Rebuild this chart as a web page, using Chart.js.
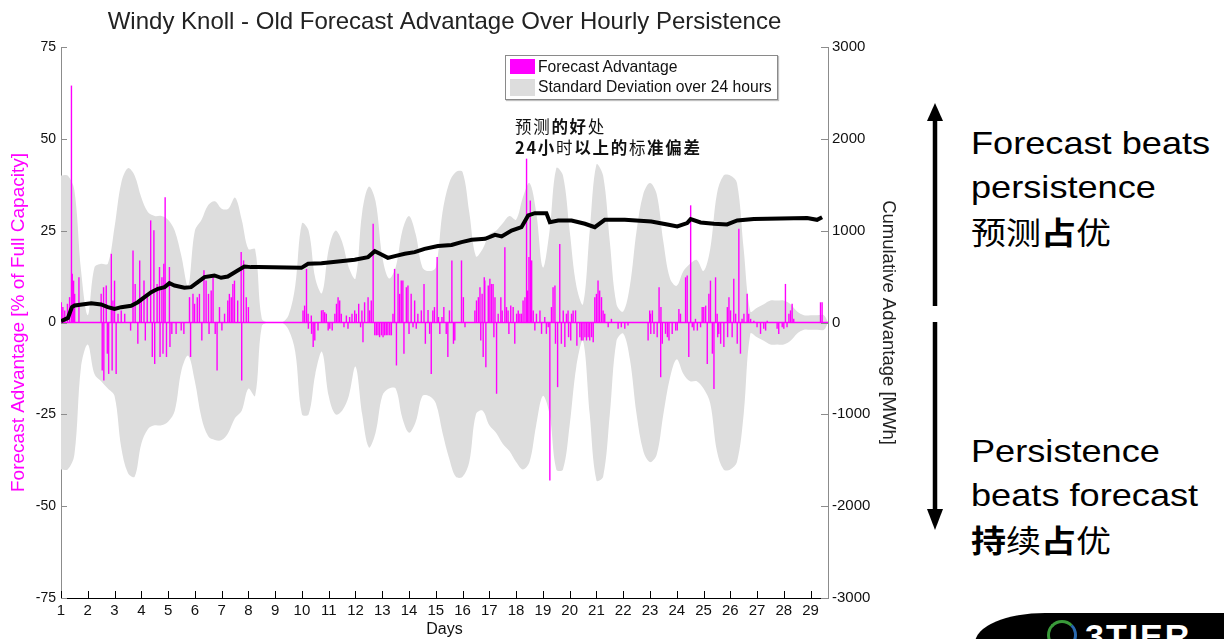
<!DOCTYPE html>
<html><head><meta charset="utf-8">
<script src="https://cdn.jsdelivr.net/npm/chart.js@4"></script>
<style>
html,body{margin:0;padding:0;background:#fff;}
body{width:1224px;height:639px;position:relative;overflow:hidden;font-family:"Liberation Sans",Arial,sans-serif;}
#c{position:absolute;left:0;top:0;}
.legend{position:absolute;left:505px;top:55px;width:271px;height:43px;border:1px solid #8a8a8a;background:#fff;box-shadow:1px 1px 1px #c0c0c0;}
.sw{position:absolute;left:4px;width:25px;}
.lt{position:absolute;left:32px;font-size:15.7px;color:#111;white-space:nowrap;line-height:18px;}
.ann{position:absolute;left:515px;font-family:"Noto Sans CJK SC",sans-serif;font-size:16.5px;color:#111;white-space:nowrap;letter-spacing:1.7px;line-height:21px;}
.ann b{font-weight:700;}
.rt{position:absolute;left:971px;font-size:32px;line-height:44px;color:#000;white-space:nowrap;transform:scaleX(1.13);transform-origin:0 0;}
.rt .cj{font-family:"Noto Sans CJK SC",sans-serif;font-size:31px;}
.rt b{font-weight:700;}
#logo{position:absolute;left:975px;top:613px;width:260px;height:40px;background:#000;border-radius:70px 0 0 0 / 30px 0 0 0;overflow:hidden;}
#logo .t{position:absolute;left:110px;top:4px;color:#fff;font-weight:bold;font-size:34px;letter-spacing:2px;}
#logo .s{position:absolute;left:72px;top:7px;width:24px;height:24px;border-radius:50%;border:3px solid #3a9a3a;border-right-color:#2a6ab0;border-bottom-color:#d07a2a;}
</style></head>
<body>
<canvas id="c" width="900" height="639"></canvas>

<div class="legend">
  <div class="sw" style="top:3px;height:15px;background:#ff00ff"></div>
  <div class="lt" style="top:2px">Forecast Advantage</div>
  <div class="sw" style="top:23px;height:17px;background:#dddddd"></div>
  <div class="lt" style="top:22px">Standard Deviation over 24 hours</div>
</div>

<div class="ann" style="top:116px">预测<b>的好</b>处</div>
<div class="ann" style="top:137px"><b>24小</b>时<b>以上的</b>标<b>准偏差</b></div>

<svg style="position:absolute;left:915px;top:95px" width="40" height="450">
  <line x1="20" y1="20" x2="20" y2="211" stroke="#000" stroke-width="4.5"/>
  <polygon points="12,26 20,8 28,26" fill="#000"/>
  <line x1="20" y1="227" x2="20" y2="420" stroke="#000" stroke-width="4.5"/>
  <polygon points="12,414 20,435 28,414" fill="#000"/>
</svg>

<div class="rt" style="top:121px">Forecast beats<br>persistence<br><span class="cj">预测<b>占</b>优</span></div>
<div class="rt" style="top:429px">Persistence<br>beats forecast<br><span class="cj"><b>持</b>续<b>占</b>优</span></div>

<div id="logo"><div class="s"></div><div class="t">3TIER</div></div>

<script>
// ---------------- data ----------------
const xMin = 1, xMax = 29.65;
const dayTicks = [1,2,3,4,5,6,7,8,9,10,11,12,13,14,15,16,17,18,19,20,21,22,23,24,25,26,27,28,29];
const leftTicks = [-75,-50,-25,0,25,50,75];
const rightTicks = [-3000,-2000,-1000,0,1000,2000,3000];

// standard deviation band (upper / lower edge, % of capacity), every quarter day
const bandDays = [1,1.25,1.5,1.75,2,2.25,2.5,2.75,3,3.25,3.5,3.75,4,4.25,4.5,4.75,5,5.25,5.5,5.75,6,6.25,6.5,6.75,7,7.25,7.5,7.75,8,8.25,8.5,8.75,9,9.25,9.5,9.75,10,10.25,10.5,10.75,11,11.25,11.5,11.75,12,12.25,12.5,12.75,13,13.25,13.5,13.75,14,14.25,14.5,14.75,15,15.25,15.5,15.75,16,16.25,16.5,16.75,17,17.25,17.5,17.75,18,18.25,18.5,18.75,19,19.25,19.5,19.75,20,20.25,20.5,20.75,21,21.25,21.5,21.75,22,22.25,22.5,22.75,23,23.25,23.5,23.75,24,24.25,24.5,24.75,25,25.25,25.5,25.75,26,26.25,26.5,26.75,27,27.25,27.5,27.75,28,28.25,28.5,28.75,29,29.25,29.5,29.65];
const bandUpper = [40,40,36,14, 2,15,16,16, 26,38,42,40, 34,30,29,29, 28,25,18,10, 25,28,32,33, 31,31,34,28, 20,20,1,0, 0,0,2,10, 27,25,12,8, 20,25,22,15, 12,30,37,33, 18,12,15,25, 29,24,15,14, 15,30,38,41, 41,30,18,20, 24,25,27,29, 28,34,38,30, 15,25,42,40, 25,10,5,25, 43,40,22,5, 3,10,25,35, 38,35,22,12, 10,14,16,17, 14,20,35,40, 40,38,20,3, 4,5,6,6, 6,5,3,2, 2,2,2,0];
const bandLower = [-40,-40,-36,-12, -6,-14,-16,-18, -20,-34,-41,-42, -33,-29,-28,-28, -27,-24,-13,-9, -16,-26,-31,-32, -32,-30,-26,-24, -18,-20,-1,0, 0,0,-2,-8, -25,-25,-14,-8, -20,-25,-24,-20, -12,-25,-34,-30, -20,-18,-18,-26, -30,-27,-20,-20, -22,-30,-37,-42, -42,-38,-25,-24, -28,-30,-33,-35, -38,-40,-38,-28, -20,-25,-40,-40, -28,-12,-5,-25, -43,-42,-25,-5, -3,-10,-25,-35, -38,-36,-25,-15, -10,-14,-16,-16, -18,-22,-35,-40, -40,-38,-25,-3, -4,-5,-6,-6, -6,-5,-3,-2, -2,-2,-2,0];

// hourly forecast advantage spikes (% of full capacity)
const spikeDays = [1.01,1.07,1.14,1.24,1.32,1.39,1.42,1.47,1.51,1.67,2.50,2.54,2.59,2.60,2.69,2.73,2.78,2.88,2.91,2.94,3.00,3.06,3.13,3.25,3.38,3.60,3.69,3.77,3.87,3.94,4.00,4.10,4.15,4.22,4.35,4.41,4.47,4.50,4.59,4.68,4.70,4.77,4.81,4.84,4.89,4.94,5.05,5.07,5.14,5.30,5.49,5.59,5.80,5.84,5.93,5.99,6.09,6.17,6.26,6.34,6.42,6.51,6.53,6.61,6.68,6.76,6.83,6.92,7.01,7.11,7.23,7.29,7.36,7.42,7.48,7.60,7.73,7.75,7.82,7.92,8.00,
10.04,10.10,10.17,10.23,10.24,10.35,10.36,10.42,10.48,10.60,10.73,10.79,10.85,10.91,10.98,11.04,11.13,11.23,11.29,11.35,11.41,11.47,11.57,11.66,11.72,11.78,11.87,11.97,12.03,12.12,12.19,12.24,12.28,12.34,12.47,12.53,12.59,12.66,12.72,12.78,12.84,12.90,12.97,13.03,13.09,13.15,13.21,13.28,13.34,13.40,13.46,13.53,13.59,13.65,13.71,13.77,13.81,13.90,13.96,14.00,14.08,14.15,14.21,14.27,14.33,14.46,14.56,14.61,14.71,14.77,14.83,14.89,14.95,15.05,15.10,15.15,15.23,15.30,15.39,15.45,15.51,15.60,15.66,
15.71,15.96,16.03,16.09,16.46,16.52,16.59,16.65,16.68,16.73,16.77,16.81,16.83,16.87,16.96,17.02,17.08,17.14,17.17,17.21,17.27,17.33,17.43,17.48,17.58,17.64,17.70,17.73,17.80,17.89,17.95,18.02,18.08,18.14,18.20,18.26,18.33,18.39,18.43,18.48,18.53,18.58,18.64,18.70,18.76,18.89,18.95,19.07,19.13,19.20,19.26,19.32,19.38,19.45,19.47,19.55,19.63,19.69,19.76,19.82,19.88,19.94,19.96,20.04,20.07,20.13,20.22,20.27,20.38,20.44,20.50,20.57,20.63,20.69,20.75,20.82,20.88,20.94,21.00,21.06,21.12,21.19,21.25,21.31,21.44,21.56,21.81,21.93,22.06,22.18,22.93,22.99,
23.02,23.03,23.09,23.15,23.27,23.34,23.40,23.41,23.46,23.58,23.65,23.71,23.83,23.96,24.02,24.08,24.14,24.33,24.39,24.45,24.52,24.58,24.64,24.70,24.77,24.89,24.95,25.01,25.08,25.14,25.20,25.26,25.33,25.39,25.45,25.51,25.53,25.57,25.64,25.76,25.89,25.90,25.95,26.01,26.07,26.13,26.20,26.26,26.32,26.38,26.44,26.51,26.63,26.69,26.76,26.88,27.00,27.13,27.25,27.32,27.38,27.75,27.81,27.94,28.00,28.06,28.12,28.19,28.25,28.31,28.37,29.37,29.43];
const spikeValues = [5.5,4.2,3.3,5.1,6.9,64.5,13.3,11.4,7.8,12.3,7.8,-13.1,9.6,-15.8,10.1,-8.5,-14.0,18.7,-13.1,6.0,11.4,-14.0,2.4,3.3,2.4,-2.2,19.6,10.5,-5.8,16.9,6.9,11.4,-4.9,7.8,27.8,-9.4,25.1,-11.3,10.5,15.1,-9.4,12.3,-8.5,16.0,34.1,-9.4,15.1,-6.7,-3.1,-3.1,-2.2,-3.1,6.9,-9.4,7.8,5.1,6.9,7.8,-4.9,14.2,11.4,7.8,-3.1,8.7,12.3,-3.1,-13.1,4.2,-2.2,2.4,6.0,7.8,6.9,10.5,11.4,6.0,19.2,-15.8,16.9,6.9,4.2,
3.3,4.6,14.6,2.4,-1.7,1.9,-3.1,-6.7,-4.9,-2.2,3.3,3.4,2.8,2.4,-2.2,-1.7,-2.2,2.4,5.1,6.9,6.0,2.4,-1.3,1.9,-1.7,1.5,2.4,3.3,2.4,5.1,-1.3,3.3,-5.4,5.5,6.9,3.3,6.0,26.9,-3.5,-3.5,-3.5,-4.0,-3.5,-4.0,-3.5,-3.5,-3.5,-3.5,-3.5,2.4,14.6,-11.7,13.3,7.8,11.4,11.4,-8.5,9.6,10.1,-3.1,7.8,-1.3,6.0,-1.7,2.4,3.3,10.5,-5.8,3.4,-3.1,-14.0,3.3,4.2,17.8,1.5,-3.1,1.5,4.2,-3.1,-9.4,3.3,16.9,-5.8,
-4.9,16.9,6.9,-1.3,3.3,6.0,6.9,9.6,-4.9,7.8,-9.4,12.3,11.4,-12.2,10.1,11.9,10.5,10.5,-4.0,6.9,-19.4,2.4,6.9,3.3,20.5,4.2,3.3,-3.1,4.6,4.2,-5.8,2.4,3.3,2.4,2.4,6.0,6.9,44.6,8.7,17.8,33.2,16.9,3.3,-2.2,2.4,3.3,-3.1,1.5,-3.1,-1.3,-43.0,4.2,9.6,10.1,-5.8,-17.6,21.4,-5.8,3.3,-6.7,2.4,3.3,-4.0,-4.9,2.4,3.3,3.3,-6.3,-4.0,-4.9,-4.9,-4.0,-4.9,-4.0,-4.9,-4.0,-5.4,6.9,7.8,11.4,8.7,6.9,3.3,2.4,-1.3,1.0,-1.7,-1.3,-1.7,-0.8,-4.9,3.3,
2.4,-3.1,3.3,-3.1,-4.0,9.6,-14.9,4.2,-5.8,-3.1,-4.0,-4.9,-3.1,-2.2,-2.2,3.7,2.4,12.3,12.8,-9.4,31.9,-1.3,-2.2,1.0,-2.2,-1.3,4.2,4.2,4.6,-11.3,7.8,11.4,-8.5,-18.1,12.3,2.4,-4.0,-3.1,-5.8,-6.7,4.2,-4.0,6.9,3.3,-4.0,11.9,2.4,-5.8,25.5,-8.5,1.0,2.4,7.8,2.4,1.0,0.5,-1.3,-3.1,-1.7,-2.2,0.5,-1.7,-3.1,-1.3,-1.7,10.5,-1.3,2.4,3.3,5.1,1.0,5.5,5.5];

// cumulative advantage (MWh)
const cumDays = [1.0,1.26,1.36,1.41,1.51,2.13,2.5,2.75,3.0,3.25,3.62,3.87,4.12,4.37,4.62,4.87,5.05,5.24,5.61,5.86,6.11,6.36,6.73,6.98,7.23,7.6,7.85,8.1,8.35,9.98,10.23,10.73,11.35,11.97,12.47,12.72,12.97,13.21,13.47,13.84,14.21,14.58,15.08,15.59,15.96,16.34,16.84,17.21,17.46,17.83,18.2,18.45,18.7,19.13,19.26,19.57,20.07,20.57,20.94,21.31,22.06,23.05,23.65,24.02,24.39,24.52,24.89,25.39,25.88,26.26,26.88,27.88,28.87,29.24,29.43];
const cumValues = [15,50,130,167,185,210,196,167,149,167,182,221,276,330,367,385,428,403,378,385,440,494,512,487,501,566,610,603,603,595,639,646,664,683,712,777,741,704,723,748,766,802,832,845,875,900,911,955,937,1002,1038,1166,1191,1191,1093,1111,1111,1075,1038,1118,1118,1100,1068,1046,1082,1126,1089,1075,1068,1111,1126,1133,1137,1118,1147];

// ---------------- chart ----------------
Chart.defaults.font.family = '"Liberation Sans", Arial, sans-serif';
Chart.defaults.color = '#111';

const pts = (xs, ys) => xs.map((x, i) => ({x: x, y: ys[i]}));

const innerTicks = {
  id: 'innerTicks',
  afterDatasetsDraw(chart) {
    const {ctx, chartArea: a, scales} = chart;
    ctx.save();
    ctx.lineWidth = 1;
    ctx.strokeStyle = '#000';
    scales.x.ticks.forEach(t => {
      const p = Math.round(scales.x.getPixelForValue(t.value)) + 0.5;
      ctx.beginPath(); ctx.moveTo(p, a.bottom); ctx.lineTo(p, a.bottom - 7); ctx.stroke();
    });
    ctx.strokeStyle = '#8c8c8c';
    scales.y.ticks.forEach(t => {
      const p = Math.round(scales.y.getPixelForValue(t.value)) + 0.5;
      ctx.beginPath(); ctx.moveTo(a.left, p); ctx.lineTo(a.left + 6, p); ctx.stroke();
    });
    scales.y2.ticks.forEach(t => {
      const p = Math.round(scales.y2.getPixelForValue(t.value)) + 0.5;
      ctx.beginPath(); ctx.moveTo(a.right, p); ctx.lineTo(a.right - 7, p); ctx.stroke();
    });
    ctx.restore();
  }
};

new Chart(document.getElementById('c'), {
  type: 'line',
  data: {
    datasets: [
      {label: 'Cumulative Advantage', type: 'line', data: pts(cumDays, cumValues), yAxisID: 'y2',
       borderColor: '#000', borderWidth: 4, pointRadius: 0, tension: 0, order: 1},
      {label: 'Forecast Advantage', type: 'bar', data: pts(spikeDays, spikeValues), yAxisID: 'y',
       backgroundColor: '#ff00ff', borderWidth: 0, barThickness: 1.4, inflateAmount: 0, order: 2},
      {label: 'Forecast Advantage baseline', type: 'line', data: pts([xMin, xMax], [0, 0]), yAxisID: 'y',
       borderColor: '#ff00ff', borderWidth: 1.5, pointRadius: 0, order: 2},
      {label: 'Standard Deviation over 24 hours', type: 'line', data: pts(bandDays, bandUpper), yAxisID: 'y',
       borderWidth: 0, borderColor: 'rgba(0,0,0,0)', backgroundColor: '#dddddd', fill: '+1', pointRadius: 0, tension: 0.35, order: 3},
      {label: 'Std lower', type: 'line', data: pts(bandDays, bandLower), yAxisID: 'y',
       borderWidth: 0, borderColor: 'rgba(0,0,0,0)', fill: false, pointRadius: 0, tension: 0.35, order: 4}
    ]
  },
  options: {
    responsive: false,
    animation: false,
    devicePixelRatio: 1,
    layout: {padding: 0},
    plugins: {
      legend: {display: false},
      tooltip: {enabled: false},
      title: {display: true, fullSize: false, text: 'Windy Knoll - Old Forecast Advantage Over Hourly Persistence',
              color: '#222', font: {size: 24, weight: 'normal', lineHeight: 1.2}, padding: {top: 8, bottom: 10.2}}
    },
    scales: {
      x: {type: 'linear', min: xMin, max: xMax, offset: false,
          grid: {display: false, drawTicks: false, offset: false}, border: {display: true, color: '#000', width: 1},
          afterBuildTicks: s => { s.ticks = dayTicks.map(v => ({value: v})); },
          afterFit: s => { s.height = 41; },
          ticks: {includeBounds: false, autoSkip: false, maxRotation: 0, padding: 4, color: '#111', font: {size: 15},
                  callback: v => String(v)},
          title: {display: true, text: 'Days', color: '#111', font: {size: 16}, padding: {top: 0, bottom: 0}}},
      y: {type: 'linear', position: 'left', min: -75, max: 75,
          grid: {display: false, drawTicks: false}, border: {display: true, color: '#8c8c8c', width: 1},
          afterBuildTicks: s => { s.ticks = leftTicks.map(v => ({value: v})); },
          afterFit: s => { s.width = 61; },
          ticks: {padding: 5, color: '#111', font: {size: 14}, callback: v => String(v)},
          title: {display: true, text: 'Forecast Advantage [% of Full Capacity]', color: '#ff00ff',
                  font: {size: 19}, padding: {top: 7, bottom: 0}}},
      y2: {type: 'linear', position: 'right', min: -3000, max: 3000,
          grid: {display: false, drawTicks: false}, border: {display: true, color: '#8c8c8c', width: 1},
          afterBuildTicks: s => { s.ticks = rightTicks.map(v => ({value: v})); },
          afterFit: s => { s.width = 72; },
          ticks: {padding: 4, color: '#111', font: {size: 15}, callback: v => String(v)},
          title: {display: true, text: 'Cumulative Advantage [MWh]', color: '#222',
                  font: {size: 18.5}, padding: {top: 1, bottom: 0}}}
    }
  },
  plugins: [innerTicks]
});
</script>
</body></html>
